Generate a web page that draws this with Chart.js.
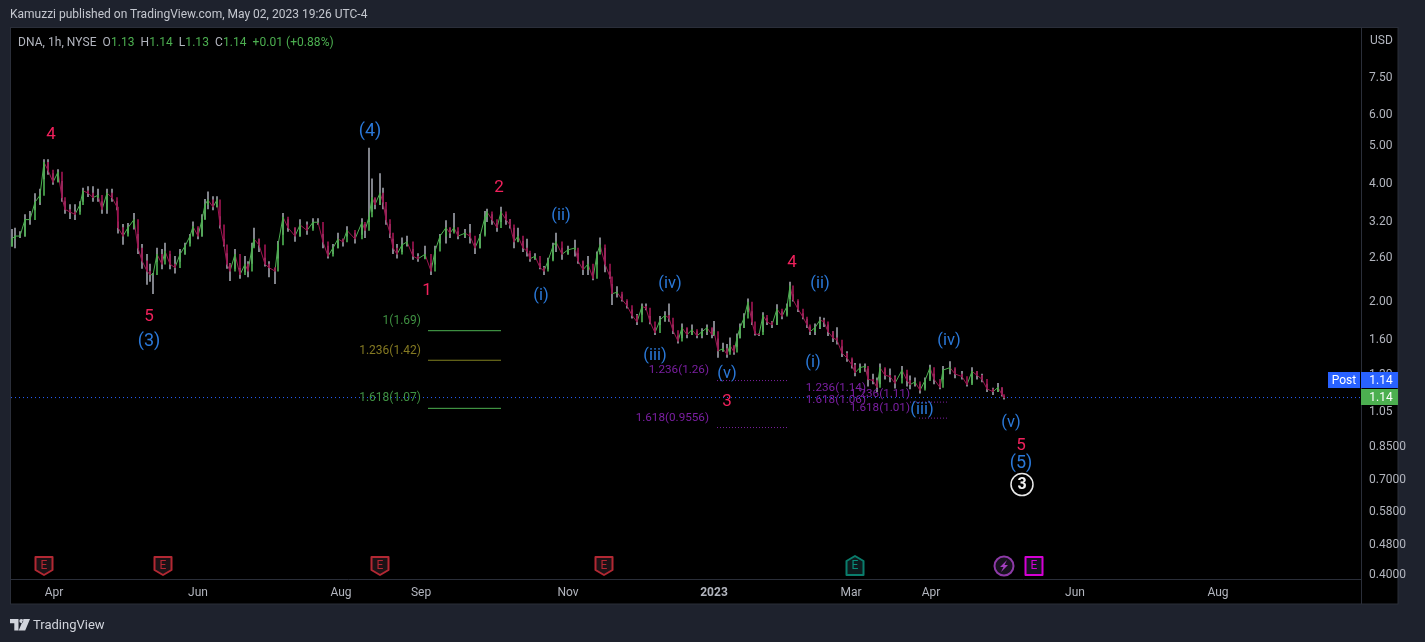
<!DOCTYPE html>
<html><head><meta charset="utf-8">
<style>
html,body{margin:0;padding:0;background:#1e222d;width:1425px;height:642px;overflow:hidden}
canvas{position:absolute;left:0;top:0}
.t{position:absolute;font-family:Roboto,sans-serif;white-space:pre;line-height:16px}
</style>
<script src="https://cdn.jsdelivr.net/npm/chart.js@4"></script>
</head><body>
<canvas id="c" width="1425" height="642"></canvas>
<div class="t" style="left:10px;top:6px;font-size:12px;color:#c4c7cf">Kamuzzi published on TradingView.com, May 02, 2023 19:26 UTC-4</div>
<div class="t" style="left:18px;top:34px;font-size:12px;letter-spacing:.05px;color:#b2b5be">DNA, 1h, NYSE  O<span style="color:#4caf50">1.13</span>  H<span style="color:#4caf50">1.14</span>  L<span style="color:#4caf50">1.13</span>  C<span style="color:#4caf50">1.14</span>  <span style="color:#4caf50">+0.01 (+0.88%)</span></div>
<svg style="position:absolute;left:10px;top:619px" width="20" height="12" viewBox="0 0 20 12"><path fill="#d1d4dc" d="M0 0h8.5v11.5H4.3V4.2H0zM13.5 0H20l-4.8 11.5H8.7zM9.3 2.1a2 2 0 1 0 4 0 2 2 0 1 0-4 0z"/></svg>
<div class="t" style="left:33px;top:617px;font-size:13px;color:#d1d4dc">TradingView</div>
<script>
const barPos=[1,4,9,14,19,24,29,33,37,42,
47,51,54,59,64,69,72,77,82,87,
91,96,101,106,107,112,117,123,127,131,
136,139,142,146,151,154,159,164,169,174,
179,182,187,191,194,197,202,206,209,213,
216,219,224,229,234,237,241,243,248,254,
258,264,267,272,277,284,289,296,302,307,
312,317,322,327,332,336,344,351,354,358,
361,364,369,372,375,379,382,386,391,396,
402,407,414,420,424,429,435,439,443,447,
454,459,464,469,474,476,481,486,490,495,
499,503,507,512,516,519,524,529,533,537,
542,545,551,557,564,567,572,577,582,586,
589,594,599,601,606,611,616,621,626,631,
635,639,644,649,654,658,662,667,671,676,
681,686,691,696,701,703,707,712,716,719,
723,726,729,733,737,741,744,748,752,756,
761,766,771,776,779,782,787,792,796,799,
804,809,813,817,822,826,831,836,841,844,
849,854,857,862,866,869,874,879,884,891,
896,899,904,909,914,919,923,929,932,939,
944,951,956,961,966,971,976,982,987,991,993];
const highs=[3.07,3.09,3.03,3.35,3.41,3.79,3.89,4.63,4.63,4.26,
4.36,4.07,3.615,3.55,3.55,3.615,3.91,3.95,3.95,3.89,
3.615,3.89,3.89,3.615,3.21,3.16,3.18,3.37,2.98,2.81,
2.65,2.50,2.37,2.75,2.73,2.83,2.65,2.62,2.73,2.83,
2.98,3.21,3.09,3.35,3.66,3.83,3.72,3.72,3.31,2.90,
2.66,2.51,2.73,2.44,2.62,2.54,2.83,3.09,2.90,2.59,
2.54,2.44,2.86,3.37,3.25,3.09,3.25,3.21,3.27,3.27,
2.98,2.78,2.81,3.00,2.90,3.12,3.00,3.27,3.16,4.95,
4.13,3.68,4.26,3.91,3.44,3.16,2.90,2.81,2.92,2.95,
2.73,2.66,2.78,2.51,2.78,2.98,3.23,3.09,3.37,3.03,
3.07,3.16,2.83,2.98,3.41,3.46,3.35,3.18,3.50,3.35,
3.25,3.09,3.09,2.86,2.90,2.66,2.66,2.51,2.47,2.59,
2.83,3.00,2.75,2.78,2.88,2.66,2.54,2.62,2.39,2.69,
2.92,2.75,2.39,2.22,2.19,2.09,2.01,1.91,1.86,1.98,
1.98,1.84,1.72,1.84,1.89,1.98,1.75,1.64,1.76,1.71,
1.75,1.68,1.71,1.75,1.71,1.785,1.61,1.57,1.56,1.62,
1.54,1.66,1.76,1.87,2.04,1.89,1.68,1.66,1.88,1.82,
1.785,1.97,1.89,1.98,2.25,2.09,2.01,1.87,1.81,1.73,
1.76,1.83,1.82,1.75,1.68,1.72,1.54,1.495,1.43,1.395,
1.39,1.39,1.35,1.31,1.28,1.39,1.35,1.35,1.295,1.37,
1.31,1.295,1.28,1.235,1.28,1.38,1.31,1.235,1.37,1.41,
1.35,1.33,1.24,1.36,1.33,1.31,1.235,1.205,1.24,1.205,1.15];
const lows=[2.78,2.75,2.92,2.95,3.16,3.44,3.55,4.13,4.24,4.00,
4.07,3.615,3.37,3.27,3.25,3.41,3.615,3.72,3.615,3.615,
3.37,3.37,3.615,3.44,3.00,2.81,3.00,3.07,2.66,2.44,
2.22,2.26,2.10,2.54,2.43,2.59,2.43,2.37,2.54,2.65,
2.83,2.98,2.90,2.95,3.27,3.46,3.44,3.50,3.09,2.78,
2.44,2.27,2.44,2.30,2.39,2.32,2.51,2.78,2.69,2.47,
2.32,2.23,2.59,2.98,3.03,2.86,2.95,2.98,3.09,3.16,
2.75,2.59,2.66,2.75,2.78,2.95,2.83,2.98,2.92,3.21,
3.41,3.46,3.55,3.46,3.16,2.92,2.66,2.59,2.69,2.78,
2.57,2.54,2.59,2.35,2.50,2.83,2.83,2.92,3.03,2.90,
2.92,2.83,2.66,2.75,2.98,3.21,3.16,3.03,3.21,3.16,
3.09,2.75,2.86,2.69,2.62,2.54,2.57,2.43,2.35,2.43,
2.57,2.69,2.57,2.65,2.62,2.51,2.35,2.35,2.28,2.50,
2.69,2.39,2.30,1.97,2.06,2.01,1.93,1.82,1.75,1.86,
1.91,1.76,1.65,1.75,1.785,1.785,1.66,1.57,1.62,1.62,
1.65,1.62,1.62,1.65,1.62,1.64,1.445,1.495,1.445,1.495,
1.47,1.54,1.62,1.72,1.89,1.75,1.645,1.64,1.68,1.75,
1.72,1.75,1.81,1.86,2.04,2.01,1.89,1.81,1.72,1.65,
1.65,1.71,1.73,1.64,1.585,1.56,1.45,1.41,1.355,1.295,
1.33,1.33,1.22,1.235,1.18,1.235,1.27,1.25,1.205,1.28,
1.22,1.20,1.22,1.17,1.205,1.27,1.235,1.20,1.27,1.31,
1.28,1.27,1.22,1.24,1.27,1.25,1.18,1.16,1.18,1.15,1.13];
const closes=[2.90,2.95,2.95,3.25,3.25,3.60,3.75,4.55,4.35,4.05,
4.30,3.70,3.45,3.40,3.35,3.55,3.85,3.80,3.70,3.75,
3.45,3.80,3.70,3.50,3.10,2.95,3.10,3.25,2.75,2.55,
2.40,2.35,2.35,2.65,2.50,2.70,2.50,2.45,2.65,2.78,
2.95,3.12,2.95,3.25,3.55,3.65,3.50,3.65,3.15,2.80,
2.50,2.40,2.65,2.35,2.50,2.40,2.75,2.90,2.80,2.50,
2.45,2.40,2.80,3.30,3.10,2.95,3.15,3.05,3.20,3.20,
2.85,2.62,2.75,2.90,2.85,3.05,2.90,3.20,3.05,3.30,
3.70,3.55,3.80,3.60,3.25,3.00,2.75,2.65,2.80,2.85,
2.62,2.58,2.65,2.40,2.70,2.95,3.10,3.00,3.10,2.95,
3.00,2.95,2.75,2.95,3.30,3.40,3.25,3.10,3.40,3.25,
3.15,2.85,2.95,2.75,2.70,2.58,2.62,2.45,2.40,2.55,
2.78,2.85,2.65,2.72,2.75,2.55,2.42,2.50,2.30,2.65,
2.80,2.50,2.32,2.10,2.12,2.03,1.96,1.85,1.78,1.95,
1.93,1.78,1.67,1.80,1.85,1.82,1.69,1.59,1.72,1.65,
1.70,1.64,1.68,1.72,1.65,1.68,1.50,1.52,1.47,1.55,
1.49,1.62,1.72,1.82,2.00,1.78,1.66,1.65,1.85,1.78,
1.75,1.92,1.84,1.95,2.20,2.03,1.92,1.83,1.75,1.68,
1.72,1.80,1.78,1.68,1.62,1.60,1.48,1.44,1.38,1.32,
1.36,1.37,1.27,1.26,1.21,1.36,1.30,1.29,1.24,1.34,
1.26,1.23,1.25,1.19,1.26,1.36,1.27,1.21,1.34,1.36,
1.31,1.29,1.23,1.33,1.30,1.27,1.20,1.18,1.21,1.16,1.14];
const priceTicks=[7.5,6,5,4,3.2,2.6,2,1.6,1.3,1.05,0.85,0.7,0.58,0.48,0.4];
const priceTickLabels=["7.50","6.00","5.00","4.00","3.20","2.60","2.00","1.60","1.30","1.05","0.8500","0.7000","0.5800","0.4800","0.4000"];
const timeTicks=[43,187,330,410,557,703,840,920,1064,1207];
const timeTickLabels=["Apr","Jun","Aug","Sep","Nov","2023","Mar","Apr","Jun","Aug"];
const lastPrice=1.14;
const waveRed=[["4",40,5.36],["5",138,1.83],["1",416,2.14],["2",488,3.91],["4",781,2.52],["3",716,1.11],["5",1010,0.86]];
const waveBlue=[["(4)",359,5.46],["(3)",138,1.585],["(ii)",550,3.33],["(i)",530,2.07],["(iv)",659,2.22],["(iii)",644,1.46],["(v)",716,1.31],["(ii)",809,2.22],["(i)",802,1.40],["(iv)",938,1.59],["(iii)",911,1.06],["(v)",1000,0.985],["(5)",1010,0.773]];
const fibGreen=[["1(1.69)",410,1.785,"#3f9142"],["1.236(1.42)",410,1.50,"#857a22"],["1.618(1.07)",410,1.14,"#3f9142"]];
const fibPurple=[["1.236(1.26)",698,1.34],["1.618(0.9556)",698,1.01],["1.236(1.14)",855,1.205],["1.618(1.06)",855,1.125],["1.236(1.11)",899,1.165],["1.618(1.01)",899,1.07]];
const levelLines=[[417,490,1.69,"#4caf50",false],[417,490,1.42,"#808020",false],[417,490,1.07,"#4caf50",false],[706,777,1.26,"#7b1fa2",true],[706,777,0.9556,"#7b1fa2",true],[899,936,1.11,"#7b1fa2",true],[908,936,1.01,"#7b1fa2",true]];
const earningsRed=[33,152,369,593];
const earningsGreen=[844];
const dividendBolt=[993];
const earningsNext=[1023];

const FONT='Roboto, sans-serif';
const UP='#4caf50',DOWN='#9c1450',WICK='#9a9da6';
const ds=[];
ds.push({type:'bar',order:1,data:barPos.map((x,i)=>({x,y:[i?closes[i-1]:lows[i],closes[i]]})),
  backgroundColor:barPos.map((x,i)=>(!i||closes[i]>=closes[i-1])?UP:DOWN),barThickness:1,borderWidth:0,grouped:false});
ds.push({type:'line',order:2,data:barPos.map((x,i)=>({x,y:closes[i]})),borderWidth:1,pointRadius:0,tension:0,
  segment:{borderColor:c=>c.p1.parsed.y>=c.p0.parsed.y?UP:DOWN},borderColor:UP});
ds.push({type:'bar',order:3,data:barPos.map((x,i)=>({x,y:[lows[i],highs[i]]})),backgroundColor:WICK,barThickness:1,borderWidth:0,grouped:false});
ds.push({type:'line',order:4,data:[{x:0,y:lastPrice},{x:1350,y:lastPrice}],borderColor:'#2962ff',borderWidth:1,borderDash:[1,3],pointRadius:0});
levelLines.forEach(l=>ds.push({type:'line',order:0,data:[{x:l[0],y:l[2]},{x:l[1],y:l[2]}],borderColor:l[3],borderWidth:1,borderDash:l[4]?[1,2]:[],pointRadius:0}));

function badge(ctx,x,y,kind){
  ctx.save();ctx.lineWidth=2;ctx.lineJoin='round';
  const w=8.5;
  ctx.beginPath();
  if(kind==='red'){ctx.moveTo(x-w,y-9);ctx.lineTo(x+w,y-9);ctx.lineTo(x+w,y+4);ctx.lineTo(x,y+9);ctx.lineTo(x-w,y+4);ctx.closePath();ctx.strokeStyle='#b22833';ctx.fillStyle='#1c1216';}
  if(kind==='green'){ctx.moveTo(x,y-10);ctx.lineTo(x+w,y-5);ctx.lineTo(x+w,y+9);ctx.lineTo(x-w,y+9);ctx.lineTo(x-w,y-5);ctx.closePath();ctx.strokeStyle='#0a7d6c';ctx.fillStyle='#0d1a1c';}
  if(kind==='bolt'){ctx.arc(x,y,9.5,0,Math.PI*2);ctx.strokeStyle='#8e3aa8';ctx.fillStyle='#16111d';}
  if(kind==='next'){ctx.rect(x-8.5,y-9,17,18);ctx.strokeStyle='#d500d5';ctx.fillStyle='#14141f';}
  ctx.fill();ctx.stroke();
  ctx.textAlign='center';ctx.textBaseline='middle';ctx.font='12px '+FONT;
  if(kind==='bolt'){ctx.fillStyle='#a33fc0';ctx.beginPath();ctx.moveTo(x+3,y-6);ctx.lineTo(x-4,y+1);ctx.lineTo(x-.5,y+1);ctx.lineTo(x-3,y+6);ctx.lineTo(x+4,y-1);ctx.lineTo(x+.5,y-1);ctx.closePath();ctx.fill();}
  else{ctx.fillStyle=kind==='red'?'#b22833':kind==='green'?'#0a8d7a':'#d500d5';ctx.fillText('E',x,y);}
  ctx.restore();
}
const deco={id:'deco',
  beforeDraw(ch){const c=ch.ctx,a=ch.chartArea;c.save();c.fillStyle='#1e222d';c.fillRect(0,0,1425,642);
    c.fillStyle='#000';c.fillRect(a.left,a.top,a.right-a.left+37,a.bottom-a.top+25);
    c.strokeStyle='#2a2e39';c.lineWidth=1;c.strokeRect(a.left-.5,a.top-.5,a.right-a.left+37.5,a.bottom-a.top+25.5);
    c.beginPath();c.moveTo(a.left,a.bottom+.5);c.lineTo(a.right,a.bottom+.5);c.moveTo(a.right+.5,a.top);c.lineTo(a.right+.5,a.bottom+25);c.stroke();c.restore();},
  afterDraw(ch){const c=ch.ctx,x=ch.scales.x,y=ch.scales.y,a=ch.chartArea;c.save();
    c.textBaseline='middle';
    c.font='12px '+FONT;c.textAlign='right';
    fibGreen.forEach(f=>{c.fillStyle=f[3];c.fillText(f[0],x.getPixelForValue(f[1]),y.getPixelForValue(f[2]));});
    c.fillStyle='#7b1fa2';c.font='11.7px '+FONT;
    fibPurple.forEach(f=>{c.fillText(f[0],x.getPixelForValue(f[1]),y.getPixelForValue(f[2]));});
    c.textAlign='center';c.font='17px '+FONT;
    c.fillStyle='#f0215c';waveRed.forEach(f=>c.fillText(f[0],x.getPixelForValue(f[1]),y.getPixelForValue(f[2])));
    c.fillStyle='#2a78d8';waveBlue.forEach(f=>{c.font=(f[0].length===3&&/\d/.test(f[0])?'18px ':'16.5px ')+FONT;c.fillText(f[0],x.getPixelForValue(f[1]),y.getPixelForValue(f[2]));});
    const cx=x.getPixelForValue(1011),cy=y.getPixelForValue(0.683);
    c.strokeStyle='#e8e8e8';c.lineWidth=1.5;c.beginPath();c.arc(cx,cy,11,0,Math.PI*2);c.stroke();
    c.fillStyle='#f0f0f0';c.font='bold 16px '+FONT;c.fillText('3',cx,cy+.5);
    const by=a.bottom-13;
    earningsRed.forEach(v=>badge(c,x.getPixelForValue(v),by,'red'));
    earningsGreen.forEach(v=>badge(c,x.getPixelForValue(v),by,'green'));
    dividendBolt.forEach(v=>badge(c,x.getPixelForValue(v),by,'bolt'));
    earningsNext.forEach(v=>badge(c,x.getPixelForValue(v),by,'next'));
    c.font='12px '+FONT;c.textAlign='left';c.fillStyle='#b2b5be';c.fillText('USD',a.right+9,41);
    const ly=Math.round(y.getPixelForValue(lastPrice));
    c.fillStyle='#2962ff';c.fillRect(a.right,ly-26,37,16);c.fillRect(a.right-33,ly-26,32,16);
    c.fillStyle='#4caf50';c.fillRect(a.right,ly-9,37,16);
    c.fillStyle='#fff';c.font='12px '+FONT;c.textAlign='center';
    c.fillText('Post',a.right-17,ly-17.5);c.fillText('1.14',a.right+20,ly-17.5);c.fillText('1.14',a.right+20,ly-0.5);
    c.restore();}
};
new Chart(document.getElementById('c'),{
  data:{datasets:ds},
  plugins:[deco],
  options:{responsive:false,animation:false,devicePixelRatio:1,
    layout:{padding:{left:11,top:28,right:0,bottom:38}},
    plugins:{legend:{display:false},tooltip:{enabled:false}},
    scales:{
      x:{type:'linear',min:0,max:1350,offset:false,bounds:'data',
        grid:{display:false,drawTicks:false},border:{display:false},
        afterBuildTicks:s=>{s.ticks=timeTicks.map(v=>({value:v}));},
        afterFit:s=>{s.height=25;},
        ticks:{autoSkip:false,maxRotation:0,padding:7,color:'#b2b5be',
          font:c=>({family:FONT,size:12,weight:c.tick&&c.tick.value===703?'bold':'normal'}),
          callback:v=>timeTickLabels[timeTicks.indexOf(v)]}},
      y:{type:'logarithmic',position:'right',min:0.3918,max:10.04,bounds:'data',
        grid:{display:false,drawTicks:false},border:{display:false},
        afterBuildTicks:s=>{s.ticks=priceTicks.map(v=>({value:v}));},
        afterFit:s=>{s.width=64;},
        ticks:{autoSkip:false,maxRotation:0,padding:8,color:'#b2b5be',font:{family:FONT,size:12},
          callback:v=>priceTickLabels[priceTicks.indexOf(v)]}}
    }}
});
</script>
</body></html>
